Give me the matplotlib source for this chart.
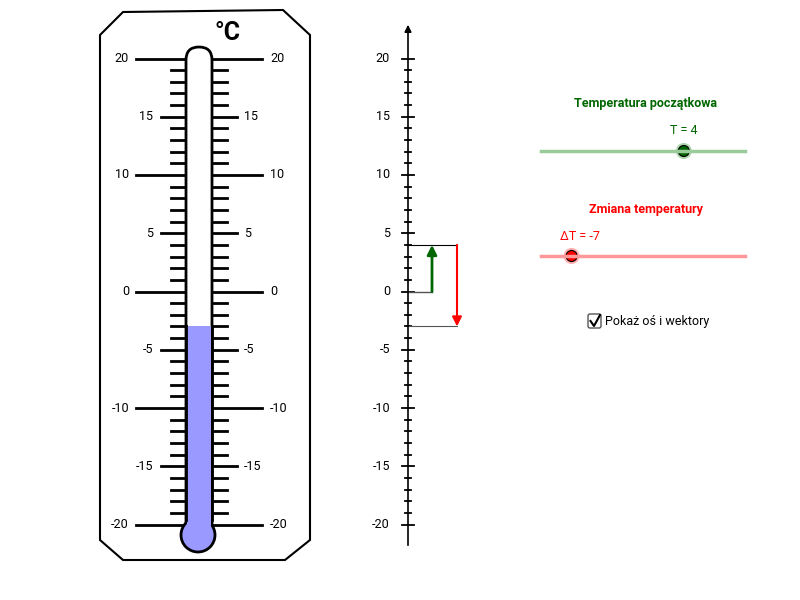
import matplotlib
matplotlib.use("Agg")
import matplotlib.pyplot as plt
from matplotlib.patches import Polygon, Circle, FancyBboxPatch, Rectangle

T_start = 4
dT = -7
major_ticks = [20, 15, 10, 5, 0, -5, -10, -15, -20]
minor_ticks = list(range(-20, 21))
slider_min, slider_max = -10, 10
title_start = "Temperatura początkowa"
title_change = "Zmiana temperatury"
checkbox_label = "Pokaż oś i wektory"

def ty(t):
    return 291.5 - t * 11.65

fig = plt.figure(figsize=(8, 6), dpi=100)
ax = fig.add_axes([0, 0, 1, 1])
ax.set_xlim(0, 800); ax.set_ylim(600, 0); ax.axis("off")
F = "Roboto"

# thermometer outline
ax.add_patch(Polygon([(123, 12), (283, 10), (310, 35), (310, 540), (285, 560),
                      (123, 560), (100, 540), (100, 35)], closed=True, fill=False, lw=1.5, ec="black"))
ax.text(228, 33, "°C", fontsize=18, fontweight="bold", ha="center", va="center", family=F)
# ticks
for t in minor_ticks:
    y = ty(t)
    if t % 10 == 0:
        ax.plot([136, 262], [y, y], color="black", lw=2)
    elif t % 5 == 0:
        ax.plot([161, 237], [y, y], color="black", lw=2)
    else:
        ax.plot([171, 227], [y, y], color="black", lw=2)
for t in major_ticks:
    y = ty(t)
    if t % 10 == 0:
        ax.text(129, y, str(t), ha="right", va="center", fontsize=9, family=F)
        ax.text(270, y, str(t), ha="left", va="center", fontsize=9, family=F)
    else:
        ax.text(153, y, str(t), ha="right", va="center", fontsize=9, family=F)
        ax.text(244, y, str(t), ha="left", va="center", fontsize=9, family=F)
# tube
ax.add_patch(FancyBboxPatch((186, 47), 26, 495, boxstyle="round,pad=0,rounding_size=13",
                            fc="white", ec="black", lw=2, zorder=3))
T_end = T_start + dT
ax.add_patch(Rectangle((187, ty(T_end)), 24, 535 - ty(T_end), fc="#9999ff", ec="none", zorder=4))
ax.add_patch(Circle((198, 535), 17, fc="#9999ff", ec="black", lw=2, zorder=4))
ax.add_patch(Rectangle((187, ty(T_end)), 24, 535 - ty(T_end), fc="#9999ff", ec="none", zorder=5))
ax.plot([186, 186], [ty(T_end), 520], color="black", lw=2, zorder=6)
ax.plot([212, 212], [ty(T_end), 520], color="black", lw=2, zorder=6)

# number axis
ax.annotate("", xy=(408, 22), xytext=(408, 548),
            arrowprops=dict(arrowstyle="-|>", color="black", lw=1.2, mutation_scale=10))
for t in minor_ticks:
    y = ty(t)
    w = 6 if t % 5 == 0 else 3
    ax.plot([408 - w, 408 + w], [y, y], color="black", lw=1.3)
for t in major_ticks:
    ax.text(390, ty(t), str(t), ha="right", va="center", fontsize=9, family=F)
# vectors
ax.plot([408, 432], [ty(0), ty(0)], color="#555555", lw=1)
ax.plot([408, 457], [ty(T_start), ty(T_start)], color="black", lw=0.8)
ax.plot([408, 457], [ty(T_end), ty(T_end)], color="#555555", lw=0.8)
ax.annotate("", xy=(432, ty(T_start)), xytext=(432, ty(0)),
            arrowprops=dict(arrowstyle="-|>", color="#006600", lw=2, mutation_scale=14, shrinkA=0, shrinkB=0))
ax.annotate("", xy=(457, ty(T_end)), xytext=(457, ty(T_start)),
            arrowprops=dict(arrowstyle="-|>", color="red", lw=1.5, mutation_scale=14, shrinkA=0, shrinkB=0))

# sliders
def sx(v):
    return 541 + (v - slider_min) / (slider_max - slider_min) * 204
ax.text(646, 104, title_start, color="#006600", fontsize=9, fontweight="bold", ha="center", va="center", family=F)
ax.plot([541, 745], [151, 151], color="#99cc99", lw=2.5)
ax.add_patch(Circle((sx(T_start), 151), 8, fc="#99cc99", ec="none", alpha=0.8))
ax.add_patch(Circle((sx(T_start), 151), 5.5, fc="#006600", ec="black", lw=0.8))
ax.text(sx(T_start), 131, f"T = {T_start}", color="#006600", fontsize=9, ha="center", va="center", family=F)

ax.text(646, 209, title_change, color="red", fontsize=9, fontweight="bold", ha="center", va="center", family=F)
ax.plot([541, 745], [256, 256], color="#ff9999", lw=2.5)
ax.add_patch(Circle((sx(dT), 256), 8, fc="#ff9999", ec="none", alpha=0.8))
ax.add_patch(Circle((sx(dT), 256), 5.5, fc="red", ec="black", lw=0.8))
ax.text(sx(dT) + 8, 237, f"ΔT = {dT}", color="red", fontsize=9, ha="center", va="center", family=F)

# checkbox
ax.add_patch(FancyBboxPatch((588, 314), 13, 14, boxstyle="round,pad=0,rounding_size=2", fc="white", ec="#555555", lw=1))
ax.plot([590.5, 594, 600], [321, 326, 315], color="black", lw=1.5)
ax.text(605, 321, checkbox_label, fontsize=9, ha="left", va="center", family=F)

fig.savefig("out.png", dpi=100)
